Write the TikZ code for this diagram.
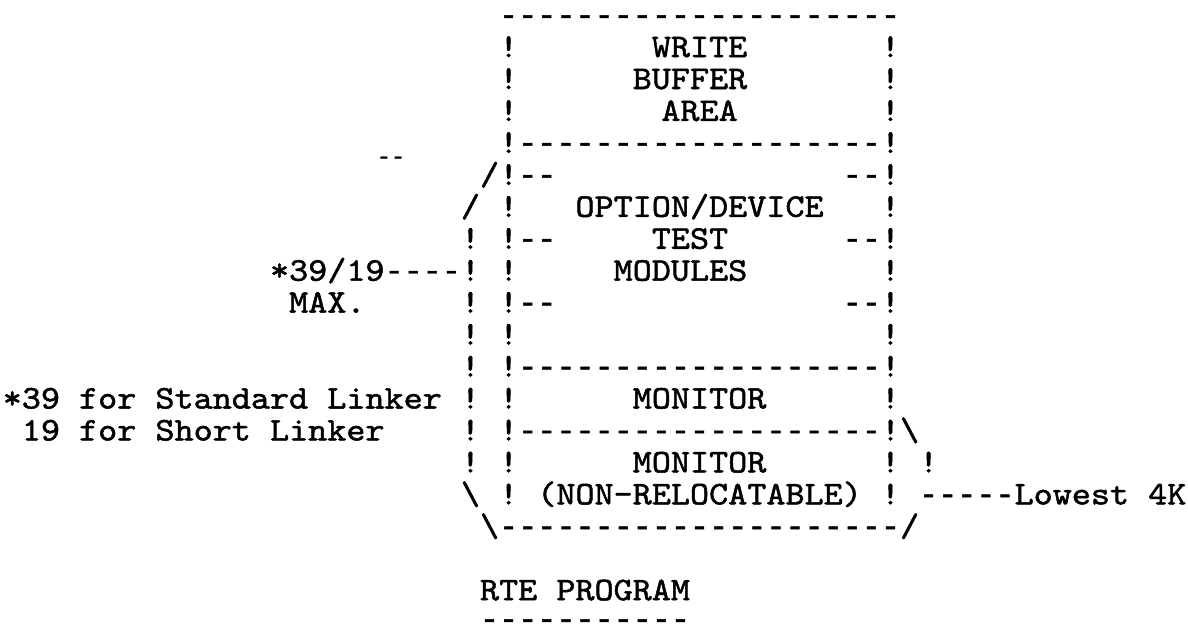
\documentclass[tikz,border=0pt]{standalone}
\usepackage{fontspec}
% typewriter face, widened a little so one character cell is 19.09pt
\newfontfamily\typer{lmmono10-regular.otf}[FakeStretch=1.1,FakeBold=1.5,WordSpace={1,0,0}]
% narrower hyphens for the dashed rules, same 19.09pt cell
\newfontfamily\dashface{Liberation Mono}[FakeBold=1.5,WordSpace={1,0,0}]
\newcommand\dd[1]{{\dashface\fontsize{31.82}{31.82}\selectfont #1}}
\tikzset{
  tt/.style={inner sep=0pt, outer sep=0pt, anchor=base west,
             font=\typer\fontsize{33.06}{33.06}\selectfont},
  ttsmall/.style={inner sep=0pt, outer sep=0pt, anchor=base,
             font=\dashface\fontsize{24}{24}\selectfont}
}
% \tw{name}{column}{row}{text}: text set on the character grid
\newcommand\tw[4]{\node[tt] (#1) at ({2.755+19.09*(#2)},{25.1+31.95*(#3)}) {#4};}
\begin{document}
\begin{tikzpicture}[x=1pt,y=-1pt]
\useasboundingbox (0,0) rectangle (1188,627);
% ---- program area frame
\tw{top}{26}{0}{\dd{---------------------}}
\tw{wbL}{26}{1}{!}\tw{wb1}{34}{1}{WRITE}\tw{wbR}{46}{1}{!}
\tw{wbL2}{26}{2}{!}\tw{wb2}{33}{2}{BUFFER}\tw{wbR2}{46}{2}{!}
\tw{wbL3}{26}{3}{!}\tw{wb3}{34.5}{3}{AREA}\tw{wbR3}{46}{3}{!}
\tw{sep1}{26}{4}{!\dd{-------------------}!}
% ---- option/device test modules
\node[ttsmall] (stray) at (391,164) {--};
\tw{r5a}{25}{5}{/!\dd{--}}\tw{r5b}{44}{5}{\dd{--}!}
\tw{r6a}{24}{6}{/}\tw{r6b}{26}{6}{!}\tw{opt}{30}{6}{OPTION/DEVICE}\tw{r6c}{46}{6}{!}
\tw{r7a}{24}{7}{!}\tw{r7b}{26}{7}{!\dd{--}}\tw{test}{34}{7}{TEST}\tw{r7c}{44}{7}{\dd{--}!}
\tw{maxa}{14}{8}{*39/19\dd{----}!}\tw{r8b}{26}{8}{!}\tw{mods}{32}{8}{MODULES}\tw{r8c}{46}{8}{!}
\tw{maxb}{15}{9}{MAX.}\tw{r9a}{24}{9}{!}\tw{r9b}{26}{9}{!\dd{--}}\tw{r9c}{44}{9}{\dd{--}!}
\tw{r10a}{24}{10}{!}\tw{r10b}{26}{10}{!}\tw{r10c}{46}{10}{!}
\tw{r11a}{24}{11}{!}\tw{sep2}{26}{11}{!\dd{-------------------}!}
% ---- monitor
\tw{note1}{0}{12}{*39 for Standard Linker}\tw{r12a}{24}{12}{!}\tw{r12b}{26}{12}{!}
\tw{mon}{33}{12}{MONITOR}\tw{r12c}{46}{12}{!}
\tw{note2}{1}{13}{19 for Short Linker}\tw{r13a}{24}{13}{!}
\tw{sep3}{26}{13}{!\dd{-------------------}!\textbackslash}
% ---- non-relocatable monitor
\tw{r14a}{24}{14}{!}\tw{r14b}{26}{14}{!}\tw{monn}{33}{14}{MONITOR}
\tw{r14c}{46}{14}{!}\tw{r14d}{48}{14}{!}
\tw{r15a}{24}{15}{\textbackslash}\tw{r15b}{26}{15}{!}
\tw{nonrel}{28}{15}{(NON-RELOCATABLE)}\tw{r15c}{46}{15}{!}
\tw{low}{48}{15}{\dd{-----}Lowest 4K}
\tw{bottom}{25}{16}{\textbackslash\dd{---------------------}/}
% ---- caption
\tw{cap}{25}{18}{RTE PROGRAM}
\node[tt] (capline) at ({2.755+19.09*25},629) {\dd{-----------}};
\end{tikzpicture}
\end{document}
